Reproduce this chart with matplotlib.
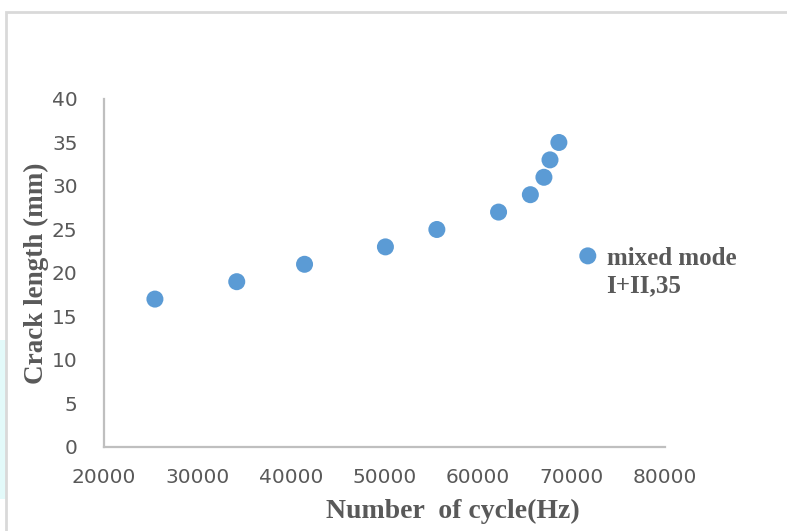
import matplotlib.pyplot as plt
from matplotlib.patches import Rectangle

# data
cycles = [25450, 34200, 41450, 50100, 55600, 62200, 65600, 67050, 67700, 68650]
crack_mm = [17, 19, 21, 23, 25, 27, 29, 31, 33, 35]
series_label = "mixed mode\nI+II,35"

x_ticks = [20000, 30000, 40000, 50000, 60000, 70000, 80000]
y_ticks = [0, 5, 10, 15, 20, 25, 30, 35, 40]

grey = "#595959"
spine = "#bfbfbf"
blue = "#5b9bd5"

fig = plt.figure(figsize=(7.87, 5.31), dpi=100)
fig.patch.set_facecolor("white")

# chart frame and the faint cyan strip on the left
fig.patches.append(Rectangle((0, 0.06), 0.008, 0.30, transform=fig.transFigure,
                             facecolor="#e3fafa", edgecolor="none", zorder=0))
fig.patches.append(Rectangle((0.008, -0.05), 1.1, 1.028, transform=fig.transFigure,
                             facecolor="none", edgecolor="#d9d9d9", linewidth=2, zorder=1))

ax = fig.add_axes([0.1321, 0.1582, 0.7129, 0.6554])
ax.scatter(cycles, crack_mm, s=150, color=blue, edgecolors="none", label=series_label, zorder=3)

ax.set_xlim(20000, 80000)
ax.set_ylim(0, 40)
ax.set_xticks(x_ticks)
ax.set_yticks(y_ticks)

for s in ["top", "right"]:
    ax.spines[s].set_visible(False)
for s in ["left", "bottom"]:
    ax.spines[s].set_color(spine)
    ax.spines[s].set_linewidth(1.6)

ax.tick_params(axis="both", length=0, labelsize=14.5, labelcolor=grey)
ax.tick_params(axis="y", pad=19)
ax.tick_params(axis="x", pad=15)
for lab in ax.get_xticklabels() + ax.get_yticklabels():
    lab.set_family("DejaVu Sans")

ax.set_xlabel("Number  of cycle(Hz)", family="Liberation Serif", fontweight="bold",
              fontsize=20, color=grey)
ax.xaxis.set_label_coords(0.622, -0.148)
ax.set_ylabel("Crack length (mm)", family="Liberation Serif", fontweight="bold",
              fontsize=19.5, color=grey, labelpad=2)

leg = ax.legend(loc="upper left", bbox_to_anchor=(0.731, 0.534), bbox_transform=fig.transFigure,
                frameon=False, handlelength=1.0, handletextpad=0.25, borderaxespad=0,
                borderpad=0, scatteryoffsets=[1.45], labelspacing=0.3,
                prop={"family": "Liberation Serif", "weight": "bold", "size": 18})
for t in leg.get_texts():
    t.set_color(grey)

fig.savefig("out.png", dpi=100, facecolor="white")
